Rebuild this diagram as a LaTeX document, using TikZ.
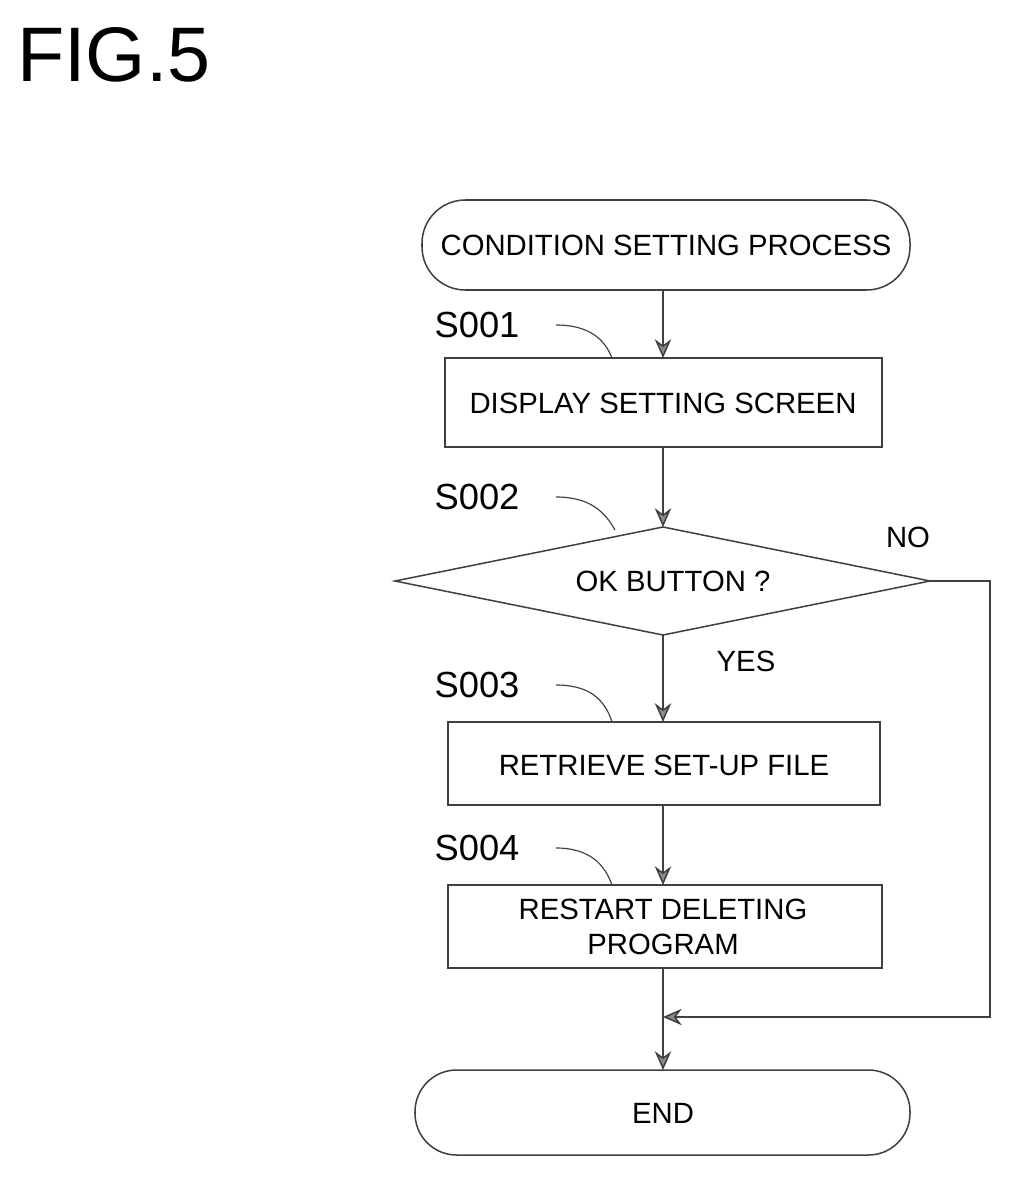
\documentclass[tikz,border=0pt]{standalone}
\usepackage{fontspec}
\setmainfont{Liberation Sans}
\usetikzlibrary{shapes.geometric,arrows.meta}
\begin{document}
\begin{tikzpicture}[x=0.03cm,y=-0.03cm,
  every node/.style={font=\fontsize{25}{30}\selectfont, inner sep=0pt},
  ln/.style={line width=1.3pt, draw=black!75},
  arr/.style={ln,-{Stealth[length=16pt,width=14pt,fill=black!45]}},
  lab/.style={font=\fontsize{31}{36}\selectfont},
  lead/.style={line width=1pt, draw=black!75}]
\useasboundingbox (0,0) rectangle (1017,1180);
\node[anchor=west, font=\fontsize{66}{76}\selectfont] (fig) at (17,55) {FIG.5};
\draw[ln,rounded corners=1.3cm] (422,200) rectangle (910,290);
\node (start) at (666,245) {CONDITION SETTING PROCESS};
\coordinate (sb) at (663,290);
\draw[ln] (445,358) rectangle (882,447);
\node (b1) at (663,403) {DISPLAY SETTING SCREEN};
\coordinate (b1t) at (663,358); \coordinate (b1b) at (663,447);
\draw[ln] (395,581) -- (663,527) -- (930,581) -- (663,635) -- cycle;
\node (d) at (673,581) {OK BUTTON ?};
\coordinate (dt) at (663,527); \coordinate (db) at (663,635); \coordinate (dr) at (930,581);
\draw[ln] (448,722) rectangle (880,805);
\node (b3) at (664,765) {RETRIEVE SET-UP FILE};
\coordinate (b3t) at (663,722); \coordinate (b3b) at (663,805);
\draw[ln] (448,885) rectangle (882,968);
\node[align=center] (b4) at (663,927) {RESTART DELETING\\PROGRAM};
\coordinate (b4t) at (663,885); \coordinate (b4b) at (663,968);
\draw[ln,rounded corners=1.25cm] (415,1070) rectangle (910,1155);
\node (end) at (663,1113) {END};
\coordinate (et) at (663,1070); \coordinate (j) at (663,1017);
\draw[arr] (sb) -- (b1t);
\draw[arr] (b1b) -- (dt);
\draw[arr] (db) -- (b3t);
\draw[arr] (b3b) -- (b4t);
\draw[arr] (b4b) -- (et);
\draw[arr] (dr) -- (990,581) -- (990,1017) -- (j);
\node (no) at (908,537) {NO};
\node (yes) at (746,661) {YES};
\node[lab] (s1) at (477,325) {S001};
\node[lab] (s2) at (477,497) {S002};
\node[lab] (s3) at (477,685) {S003};
\node[lab] (s4) at (477,848) {S004};
\draw[lead] (556,325) .. controls (590,325) and (605,340) .. (612,358);
\draw[lead] (556,497) .. controls (590,497) and (605,512) .. (615,530);
\draw[lead] (556,685) .. controls (590,685) and (605,700) .. (612,722);
\draw[lead] (556,848) .. controls (590,848) and (605,865) .. (612,885);
\end{tikzpicture}
\end{document}
